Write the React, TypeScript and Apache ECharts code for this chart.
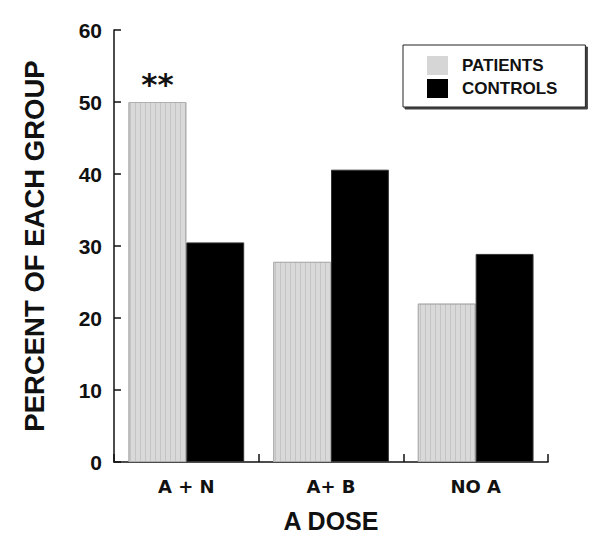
import React, { useEffect, useRef } from "react";
import * as echarts from "echarts";

const categories = ["A + N", "A+ B", "NO A"];
const patients = [50, 27.8, 22.0];
const controls = [30.5, 40.6, 28.9];
const yTicks = [0, 10, 20, 30, 40, 50, 60];
const annotations = ["**", "", ""];

const FONT = "'Liberation Sans', Arial, sans-serif";
const WIDE = "'DejaVu Sans', Verdana, sans-serif";

export default function App() {
  const ref = useRef<HTMLDivElement>(null);
  useEffect(() => {
    if (!ref.current) return;
    const chart = echarts.init(ref.current, null, { renderer: "svg" });
    chart.setOption({
      animation: false,
      backgroundColor: "#fff",
      textStyle: { fontFamily: FONT },
      grid: { left: 114, right: 52, top: 30, bottom: 77 },
      legend: {
        orient: "vertical",
        left: 403,
        top: 45,
        itemWidth: 21,
        itemHeight: 19,
        itemGap: 4,
        icon: "rect",
        padding: [11, 28, 9, 24],
        backgroundColor: "#fff",
        borderColor: "#222",
        borderWidth: 1,
        shadowColor: "rgba(0,0,0,0.75)",
        shadowOffsetX: 2,
        shadowOffsetY: 2,
        shadowBlur: 0,
        textStyle: { fontFamily: FONT, fontWeight: "bold", fontSize: 17, color: "#111", padding: [0, 0, 0, 9] },
        data: [
          { name: "PATIENTS", itemStyle: { color: "#d6d6d6", borderWidth: 0, decal: { symbol: "none" } } },
          { name: "CONTROLS", itemStyle: { color: "#000", borderWidth: 0 } },
        ],
      },
      xAxis: {
        type: "category",
        data: categories,
        name: "A DOSE",
        nameLocation: "middle",
        nameGap: 46,
        nameTextStyle: { fontFamily: FONT, fontWeight: "bold", fontSize: 25, color: "#111" },
        axisLine: { lineStyle: { color: "#111", width: 1.5 } },
        axisTick: { show: true, inside: true, length: 8, lineStyle: { color: "#111", width: 1.5 } },
        axisLabel: { fontFamily: WIDE, fontWeight: "bold", fontSize: 18, color: "#111", margin: 15 },
      },
      yAxis: {
        type: "value",
        min: yTicks[0],
        max: yTicks[yTicks.length - 1],
        interval: 10,
        name: "PERCENT OF EACH GROUP",
        nameLocation: "middle",
        nameGap: 66,
        nameTextStyle: { fontFamily: FONT, fontWeight: "bold", fontSize: 27.5, color: "#111" },
        axisLine: { show: true, lineStyle: { color: "#111", width: 1.5 } },
        axisTick: { show: true, inside: true, length: 7, lineStyle: { color: "#111", width: 1.5 } },
        axisLabel: { fontFamily: FONT, fontWeight: "bold", fontSize: 21, color: "#111", margin: 12 },
        splitLine: { show: false },
      },
      series: [
        {
          name: "PATIENTS",
          type: "bar",
          data: patients.map((v, i) => ({
            value: v,
            label: annotations[i]
              ? { show: true, position: "top", formatter: annotations[i], fontSize: 31, fontWeight: "bold", color: "#111", distance: 3, fontFamily: WIDE }
              : { show: false },
          })),
          barGap: "0%",
          barCategoryGap: "20%",
          itemStyle: {
            color: "#d9d9d9",
            borderColor: "#b0b0b0",
            borderWidth: 1,
            decal: {
              symbol: "rect",
              symbolSize: 1,
              dashArrayX: [1, 4],
              dashArrayY: [1, 0],
              rotation: 0,
              color: "rgba(150,150,150,0.3)",
            },
          },
        },
        {
          name: "CONTROLS",
          type: "bar",
          data: controls,
          barGap: "0%",
          barCategoryGap: "20%",
          itemStyle: { color: "#000", borderColor: "#333", borderWidth: 1 },
        },
      ],
    });
    return () => chart.dispose();
  }, []);
  return <div ref={ref} style={{ position: "absolute", left: 0, top: 0, width: 600, height: 539 }} />;
}
